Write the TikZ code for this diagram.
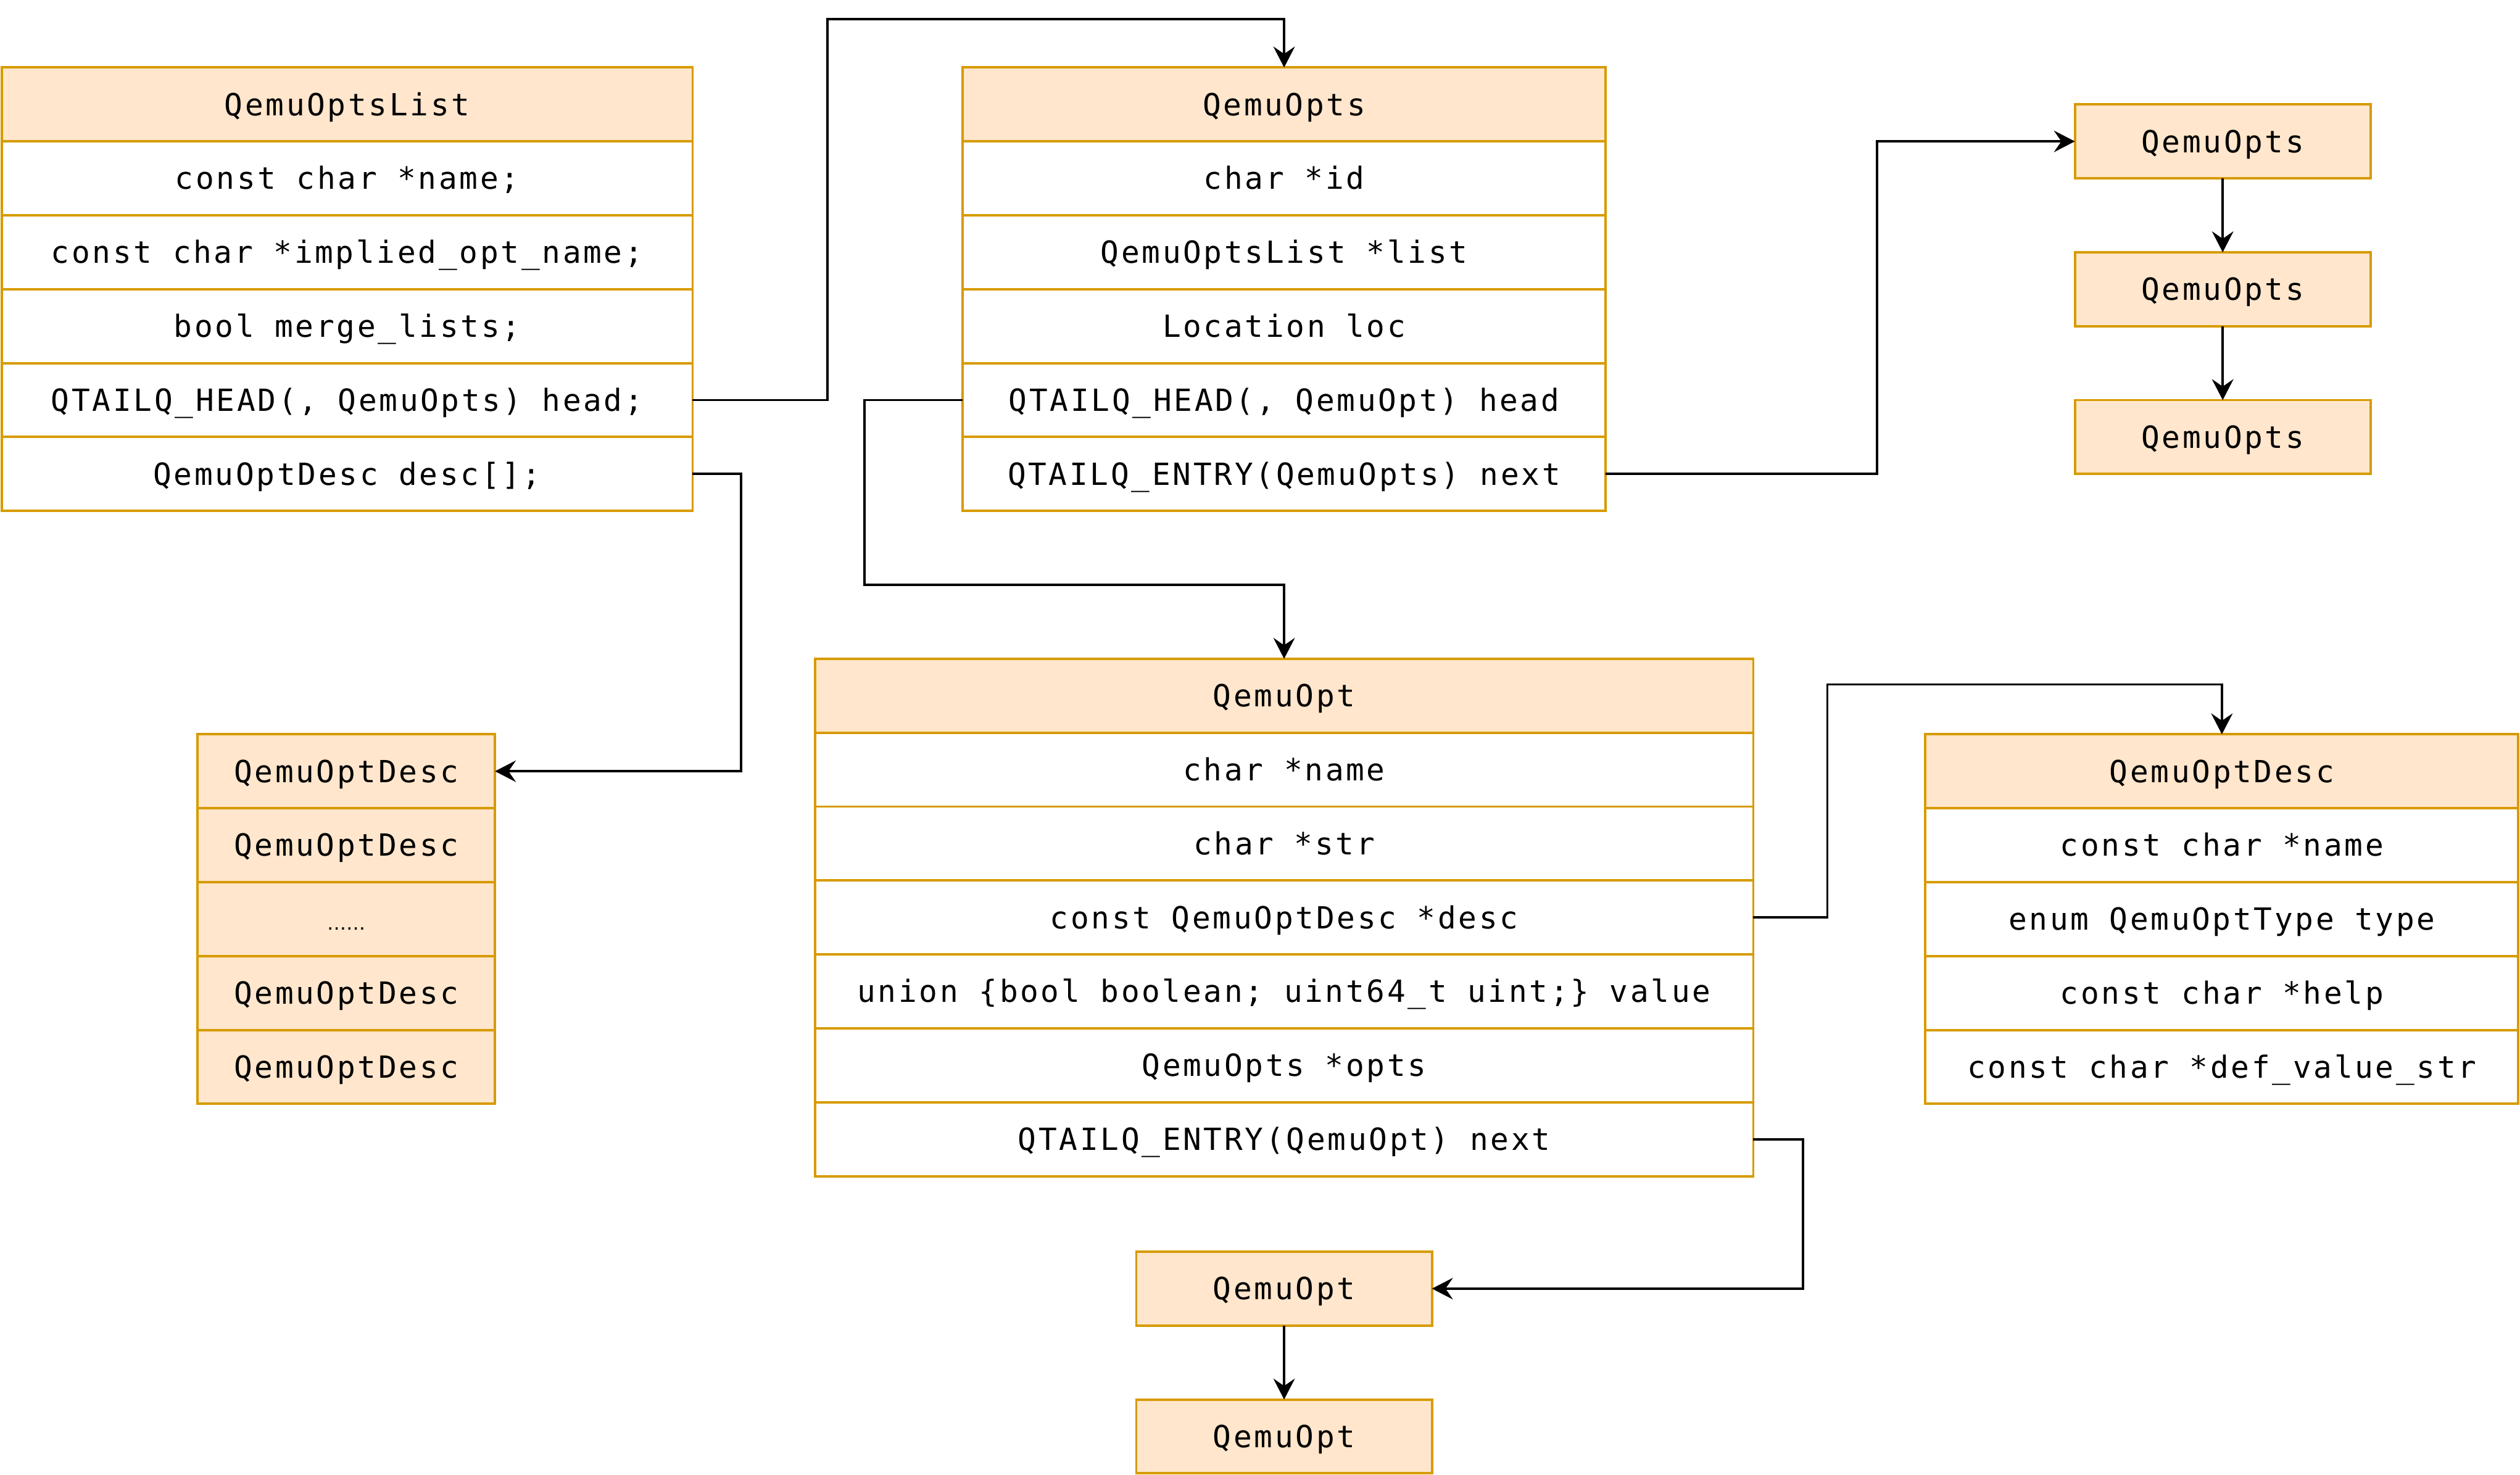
\documentclass[tikz,border=0pt]{standalone}
\usepackage{fontspec}
\usepackage{tikz}
\usetikzlibrary{arrows.meta}

\newfontfamily\codefont{DejaVu Sans Mono}[LetterSpace=7.5]
\newfontfamily\dotfont{DejaVu Sans}
\definecolor{boxfill}{HTML}{FFE6CC}
\definecolor{boxline}{HTML}{D79B00}

\begin{document}
\begin{tikzpicture}[x=0.02cm, y=-0.02cm,
  field/.style={draw=boxline, line width=0.85pt, fill=white, minimum height=0.92cm,
    inner sep=0pt, outer sep=0pt, text height=7.8pt, text depth=0pt,
    font=\codefont\fontsize{10.8}{12}\selectfont},
  head/.style={field, fill=boxfill},
  cell/.style={head, minimum width=3.7cm},
  link/.style={-{Stealth[length=7.4pt, width=7.6pt, inset=2.6pt]}, line width=0.85pt}]

\useasboundingbox (0,0) rectangle (1568,918);

% QemuOptsList
\node[head, minimum width=8.6cm] (lst) at (216,65) {QemuOptsList};
\node[field, minimum width=8.6cm] (lstname) at (216,111) {const char *name;};
\node[field, minimum width=8.6cm] (lstimpl) at (216,157) {const char *implied\_opt\_name;};
\node[field, minimum width=8.6cm] (lstmerge) at (216,203) {bool merge\_lists;};
\node[field, minimum width=8.6cm] (lsthead) at (216,249) {QTAILQ\_HEAD(, QemuOpts) head;};
\node[field, minimum width=8.6cm] (lstdesc) at (216,295) {QemuOptDesc desc[];};

% QemuOpts
\node[head, minimum width=8cm] (opts) at (799,65) {QemuOpts};
\node[field, minimum width=8cm] (optsid) at (799,111) {char *id};
\node[field, minimum width=8cm] (optslist) at (799,157) {QemuOptsList *list};
\node[field, minimum width=8cm] (optsloc) at (799,203) {Location loc};
\node[field, minimum width=8cm] (optshead) at (799,249) {QTAILQ\_HEAD(, QemuOpt) head};
\node[field, minimum width=8cm] (optsnext) at (799,295) {QTAILQ\_ENTRY(QemuOpts) next};

% QemuOpts chain
\node[head, minimum width=3.68cm] (qopts1) at (1383,88) {QemuOpts};
\node[head, minimum width=3.68cm] (qopts2) at (1383,180) {QemuOpts};
\node[head, minimum width=3.68cm] (qopts3) at (1383,272) {QemuOpts};

% desc array
\node[cell] (desc1) at (215.5,480) {QemuOptDesc};
\node[cell] (desc2) at (215.5,526) {QemuOptDesc};
\node[cell, font=\dotfont\fontsize{6.8}{7}\selectfont] (descdots) at (215.5,572) {……};
\node[cell] (desc3) at (215.5,618) {QemuOptDesc};
\node[cell] (desc4) at (215.5,664) {QemuOptDesc};

% QemuOpt
\node[head, minimum width=11.68cm] (opt) at (799,433) {QemuOpt};
\node[field, minimum width=11.68cm] (optname) at (799,479) {char *name};
\node[field, minimum width=11.68cm] (optstr) at (799,525) {char *str};
\node[field, minimum width=11.68cm] (optdesc) at (799,571) {const QemuOptDesc *desc};
\node[field, minimum width=11.68cm] (optval) at (799,617) {union \{bool boolean; uint64\_t uint;\} value};
\node[field, minimum width=11.68cm] (optopts) at (799,663) {QemuOpts *opts};
\node[field, minimum width=11.68cm] (optnext) at (799,709) {QTAILQ\_ENTRY(QemuOpt) next};

% QemuOptDesc
\node[head, minimum width=7.38cm] (od) at (1382.5,480) {QemuOptDesc};
\node[field, minimum width=7.38cm] (odname) at (1382.5,526) {const char *name};
\node[field, minimum width=7.38cm] (odtype) at (1382.5,572) {enum QemuOptType type};
\node[field, minimum width=7.38cm] (odhelp) at (1382.5,618) {const char *help};
\node[field, minimum width=7.38cm] (oddef) at (1382.5,664) {const char *def\_value\_str};

% QemuOpt chain
\node[head, minimum width=3.68cm] (qopt1) at (799,802) {QemuOpt};
\node[head, minimum width=3.68cm] (qopt2) at (799,894) {QemuOpt};

% links
\draw[link] (lsthead.east) -| (515,12) -| (opts.north);
\draw[link] (lstdesc.east) -| (461,480) -- (desc1.east);
\draw[link] (optshead.west) -| (538,364) -| (opt.north);
\draw[link] (optsnext.east) -| (1168,88) -- (qopts1.west);
\draw[link] (qopts1) -- (qopts2);
\draw[link] (qopts2) -- (qopts3);
\draw[link] (optdesc.east) -| (1137,426) -| (od.north);
\draw[link] (optnext.east) -| (1122,802) -- (qopt1.east);
\draw[link] (qopt1) -- (qopt2);

\end{tikzpicture}
\end{document}
